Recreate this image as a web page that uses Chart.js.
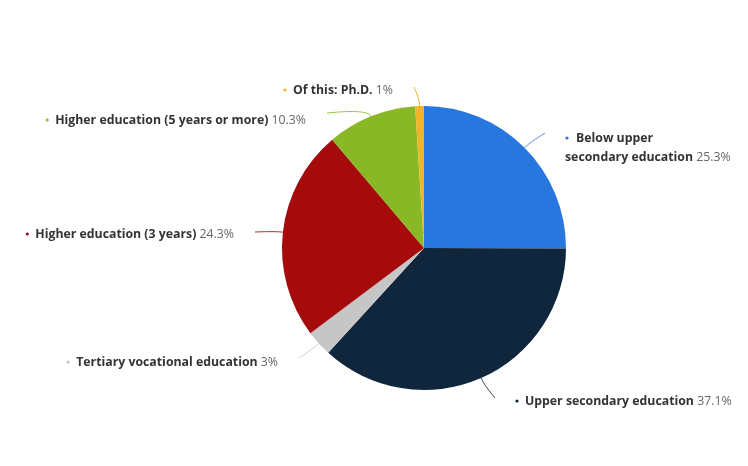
<!DOCTYPE html>
<html>
<head>
<meta charset="utf-8">
<script src="https://cdn.jsdelivr.net/npm/chart.js@4.4.1/dist/chart.umd.min.js"></script>
<style>
  html, body { margin: 0; padding: 0; background: #fff; }
  #wrap { width: 748px; height: 466px; }
</style>
</head>
<body>
<div id="wrap"><canvas id="pieChart" width="748" height="466"></canvas></div>
<script>
/* ---------- data ---------- */
const categories = [
  "Below upper secondary education",
  "Upper secondary education",
  "Tertiary vocational education",
  "Higher education (3 years)",
  "Higher education (5 years or more)",
  "Of this: Ph.D."
];
const shares = [25.3, 37.1, 3, 24.3, 10.3, 1];
const valueLabels = ["25.3%", "37.1%", "3%", "24.3%", "10.3%", "1%"];

/* ---------- styles ---------- */
const sliceColors = ["#2877de", "#0f263d", "#c6c6c6", "#a50b0b", "#88b826", "#f0b429"];
const lineColors  = ["#5a95e0", "#3a4a5c", "#cfcfcf", "#b52a2a", "#9cc63f", "#f0b429"];

// where each label's text sits (x = dot for right side, x = text end for left side)
const labelLayout = [
  { x: 567, y: 138, side: "right", lineDy: -5, firstLineWords: 2 },
  { x: 517, y: 401, side: "right", lineDy: -3 },
  { x: 278, y: 362, side: "left",  lineDy: -4 },
  { x: 234, y: 234, side: "left",  lineDy: -2 },
  { x: 306, y: 120, side: "left",  lineDy: -7 },
  { x: 393, y: 90,  side: "left",  lineDy: -3 }
];

const NAME_FONT = 'bold 12.3px "Open Sans"';
const VALUE_FONT = '12.3px "Open Sans"';

/* ---------- label + connector plugin ---------- */
const sliceLabels = {
  id: "sliceLabels",
  afterDraw(chart) {
    const ctx = chart.ctx;
    const arcs = chart.getDatasetMeta(0).data;
    arcs.forEach(function (arc, i) {
      const p = arc.getProps(["x", "y", "startAngle", "endAngle", "outerRadius"], true);
      const mid = (p.startAngle + p.endAngle) / 2;
      const ex = p.x + Math.cos(mid) * p.outerRadius;
      const ey = p.y + Math.sin(mid) * p.outerRadius;
      const cx = p.x + Math.cos(mid) * (p.outerRadius + 8);
      const cy = p.y + Math.sin(mid) * (p.outerRadius + 8);
      const L = labelLayout[i];
      const endX = L.side === "left" ? L.x + 21 : L.x - 22;
      const endY = L.y + L.lineDy;

      ctx.save();
      ctx.strokeStyle = lineColors[i];
      ctx.lineWidth = 1;
      ctx.beginPath();
      ctx.moveTo(ex, ey);
      ctx.quadraticCurveTo(cx, cy, endX, endY);
      ctx.stroke();

      ctx.textBaseline = "middle";
      ctx.textAlign = "left";
      const name = categories[i];
      const value = valueLabels[i];

      if (L.firstLineWords) {
        const words = name.split(" ");
        const line1 = words.slice(0, L.firstLineWords).join(" ");
        const line2 = words.slice(L.firstLineWords).join(" ") + " ";
        drawDot(ctx, L.x, L.y, sliceColors[i]);
        ctx.font = NAME_FONT;
        ctx.fillStyle = "#333";
        ctx.fillText(line1, L.x + 9, L.y);
        const x2 = L.x - 2, y2 = L.y + 19;
        ctx.fillText(line2, x2, y2);
        const w2 = ctx.measureText(line2).width;
        ctx.font = VALUE_FONT;
        ctx.fillStyle = "#666";
        ctx.fillText(value, x2 + w2, y2);
      } else {
        ctx.font = NAME_FONT;
        const nw = ctx.measureText(name + " ").width;
        ctx.font = VALUE_FONT;
        const vw = ctx.measureText(value).width;
        let tx;
        if (L.side === "left") {
          tx = L.x - nw - vw;
          drawDot(ctx, tx - 8, L.y, sliceColors[i]);
        } else {
          drawDot(ctx, L.x, L.y, sliceColors[i]);
          tx = L.x + 8;
        }
        ctx.font = NAME_FONT;
        ctx.fillStyle = "#333";
        ctx.fillText(name + " ", tx, L.y);
        ctx.font = VALUE_FONT;
        ctx.fillStyle = "#666";
        ctx.fillText(value, tx + nw, L.y);
      }
      ctx.restore();
    });
  }
};

function drawDot(ctx, x, y, color) {
  ctx.fillStyle = color;
  ctx.beginPath();
  ctx.arc(x, y, 1.6, 0, Math.PI * 2);
  ctx.fill();
}

/* ---------- chart ---------- */
const ctx = document.getElementById("pieChart").getContext("2d");
const pieChart = new Chart(ctx, {
  type: "pie",
  data: {
    labels: categories,
    datasets: [{
      data: shares,
      backgroundColor: sliceColors,
      borderWidth: 0
    }]
  },
  options: {
    responsive: false,
    animation: false,
    layout: { padding: { left: 282, right: 182, top: 106, bottom: 76 } },
    plugins: {
      legend: { display: false },
      tooltip: { enabled: false }
    }
  },
  plugins: [sliceLabels]
});
</script>
</body>
</html>
